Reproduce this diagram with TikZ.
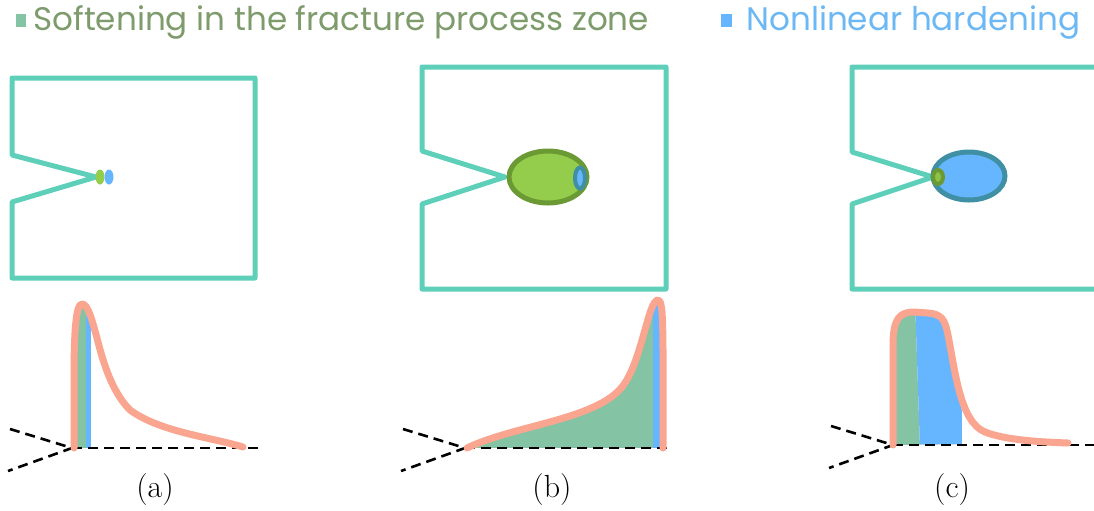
\documentclass[tikz,border=0pt]{standalone}
\usepackage{fontspec}
\newfontfamily\legendfamily{Poppins}
\definecolor{specteal}{HTML}{5ECFB8}
\definecolor{softgreen}{HTML}{84C4A4}
\definecolor{softtext}{HTML}{7D9B6B}
\definecolor{hardblue}{HTML}{66B5FF}
\definecolor{hardtext}{HTML}{6CB8F4}
\definecolor{zonegreen}{HTML}{94CC4C}
\definecolor{zonegreendark}{HTML}{6B9A35}
\definecolor{zonebluedark}{HTML}{3F8FA5}
\definecolor{stresssalmon}{HTML}{F9A58F}
\newcommand{\legendfont}{\fontsize{16.3}{19}\selectfont\legendfamily}
\newcommand{\capfont}{\fontsize{16}{19}\selectfont}
\newcommand{\specimen}[8]{%
  \draw[specteal,line width=2.5pt,line join=round]
    (#1,#5) -- (#1,#3) -- (#2,#3) -- (#2,#4) -- (#1,#4) -- (#1,#6) -- (#7,#8) -- cycle;
}
\newcommand{\cracktip}[3]{%
  \draw[black,line width=1.3pt,dash pattern=on 5pt off 3pt]
    (#1-62,#2-19) -- (#1,#2) -- (#1-64,#2+23);
  \draw[black,line width=1.3pt,dash pattern=on 5pt off 3pt] (#1,#2) -- (#3,#2);
}
\tikzset{
  stressline/.style={stresssalmon,line width=3.5pt,line cap=round,line join=round},
  captext/.style={inner sep=0pt,font=\capfont}
}

\begin{document}
\begin{tikzpicture}[x=0.5pt,y=-0.5pt]
  \useasboundingbox (0,0) rectangle (1094,510);

  % legend
  \fill[softgreen] (16,14) rectangle (26,27);
  \node[anchor=base west,inner sep=0pt,text=softtext] (softlabel) at (33,30)
    {\legendfont Softening in the fracture process zone};
  \fill[hardblue] (721,14) rectangle (732,27);
  \node[anchor=base west,inner sep=0pt,text=hardtext] (hardlabel) at (746,30)
    {\legendfont Nonlinear hardening};

  % (a) small process zone
  \specimen{12}{255}{78}{278}{155}{202}{96}{177}
  \fill[zonegreen] (100,177) ellipse [x radius=4.5,y radius=7.5];
  \fill[hardblue] (109,177) ellipse [x radius=4.5,y radius=7.5];
  \begin{scope}
    \clip (74,448) -- (74,380) .. controls (74,330) and (76,304) .. (82,304)
      .. controls (88,304) and (92,320) .. (97,338)
      .. controls (103,362) and (112,392) .. (130,410)
      .. controls (160,432) and (210,437) .. (243,447) -- cycle;
    \fill[softgreen] (74,290) rectangle (86,448);
    \fill[hardblue] (86,290) rectangle (91,448);
  \end{scope}
  \cracktip{72}{448}{263}
  \draw[stressline] (74,448) -- (74,380) .. controls (74,330) and (76,304) .. (82,304)
      .. controls (88,304) and (92,320) .. (97,338)
      .. controls (103,362) and (112,392) .. (130,410)
      .. controls (160,432) and (210,437) .. (243,447);
  \node[captext] (capa) at (155,490) {(a)};

  % (b) large softening zone
  \specimen{422}{666}{67}{289}{151}{204}{505}{177}
  \draw[zonegreendark,fill=zonegreen,line width=2.5pt] (548,177) ellipse [x radius=39,y radius=26];
  \draw[zonebluedark,fill=hardblue,line width=2pt] (580,178) ellipse [x radius=5,y radius=10.5];
  \begin{scope}
    \clip (467,448) .. controls (515,425) and (595,420) .. (622,387)
      .. controls (642,362) and (648,300) .. (658,300)
      .. controls (664,300) and (663,330) .. (663,448) -- cycle;
    \fill[softgreen] (460,290) rectangle (653,448);
    \fill[hardblue] (653,290) rectangle (660,448);
  \end{scope}
  \cracktip{465}{448}{672}
  \draw[stressline] (467,448) .. controls (515,425) and (595,420) .. (622,387)
      .. controls (642,362) and (648,300) .. (658,300)
      .. controls (664,300) and (663,330) .. (663,448);
  \node[captext] (capb) at (552,490) {(b)};

  % (c) large hardening zone
  \specimen{852}{1098}{67}{289}{152}{204}{933}{177}
  \draw[zonebluedark,fill=hardblue,line width=2.5pt] (969,176) ellipse [x radius=36,y radius=24];
  \draw[zonegreendark,fill=zonegreen!80!zonegreendark,line width=2pt] (938,177) ellipse [x radius=5,y radius=7];
  \begin{scope}
    \clip (893,445) -- (893,345) .. controls (893,318) and (900,312) .. (914,312)
      -- (928,313) .. controls (942,314) and (945,320) .. (948,335)
      .. controls (955,370) and (960,422) .. (985,432)
      .. controls (1005,440) and (1040,442) .. (1068,443) -- cycle;
    \fill[softgreen] (890,300) -- (915,300) -- (920,448) -- (890,448) -- cycle;
    \fill[hardblue] (915,300) -- (961,300) -- (962,448) -- (920,448) -- cycle;
  \end{scope}
  \cracktip{893}{445}{1098}
  \draw[stressline] (893,445) -- (893,345) .. controls (893,318) and (900,312) .. (914,312)
      -- (928,313) .. controls (942,314) and (945,320) .. (948,335)
      .. controls (955,370) and (960,422) .. (985,432)
      .. controls (1005,440) and (1040,442) .. (1068,443);
  \node[captext] (capc) at (952,490) {(c)};
\end{tikzpicture}
\end{document}
